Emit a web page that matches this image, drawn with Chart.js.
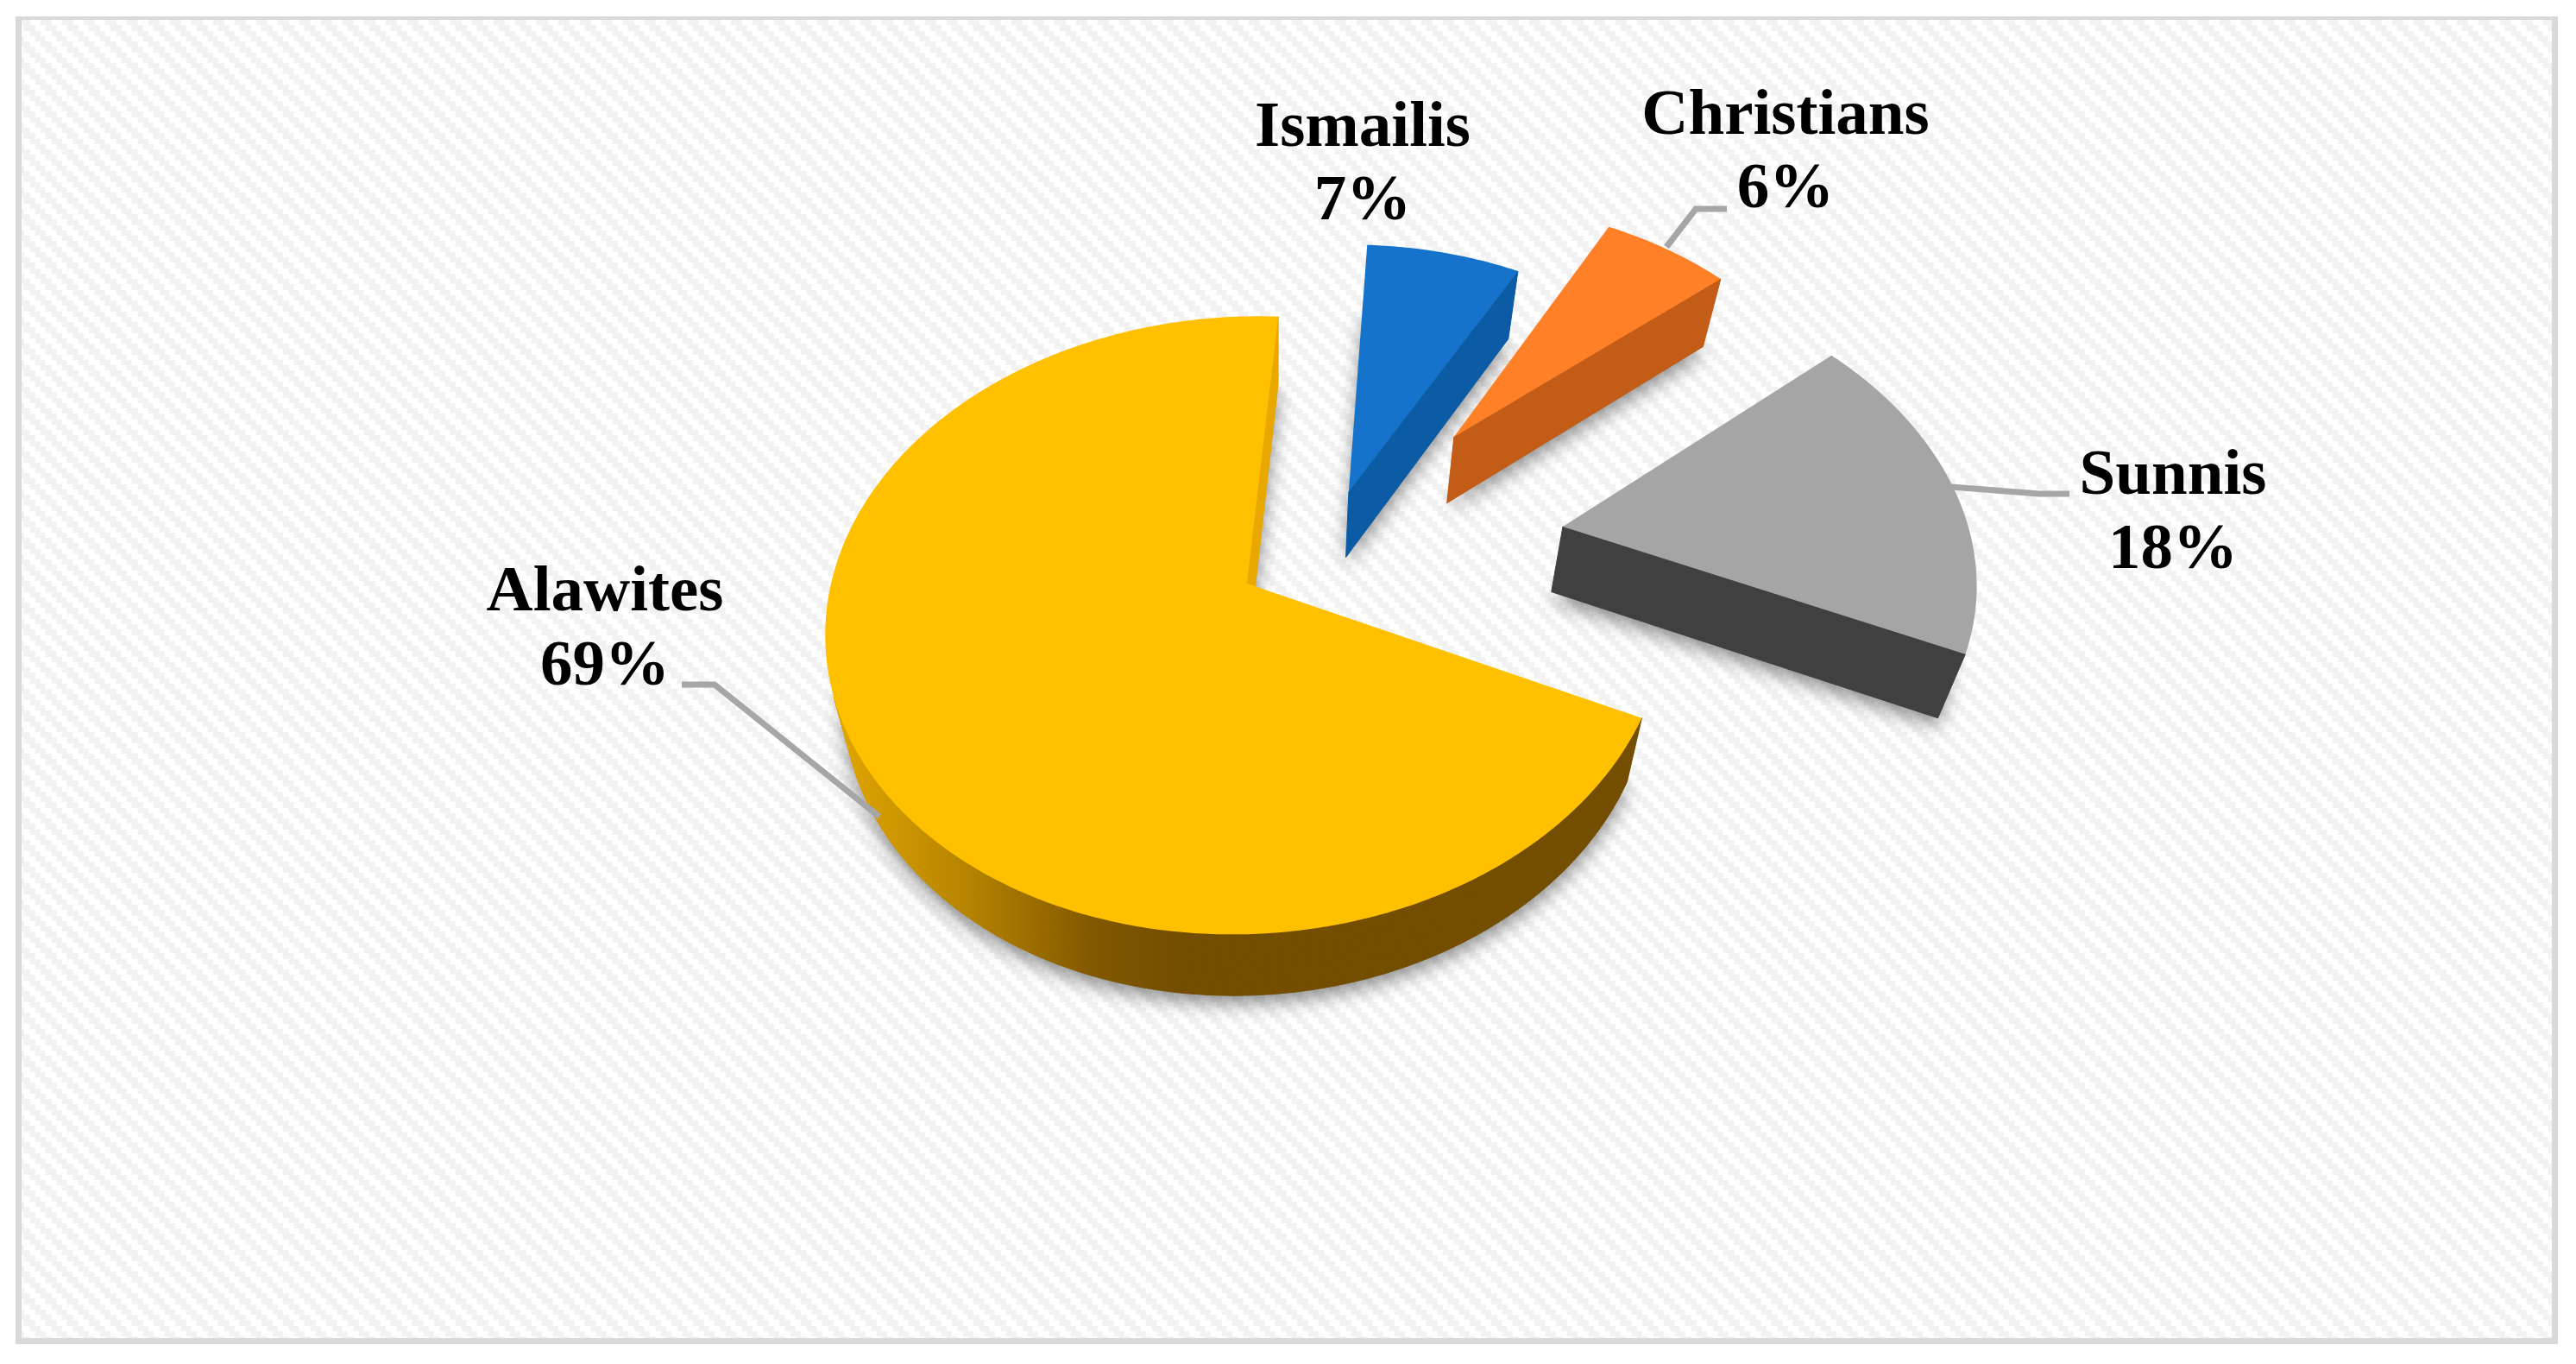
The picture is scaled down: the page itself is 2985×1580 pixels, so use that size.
<!DOCTYPE html>
<html><head>
<meta charset="utf-8">
<title>Religious groups</title>
<script src="https://cdn.jsdelivr.net/npm/chart.js"></script>
<style>
body { margin: 0; background: #fff; }
canvas { display: block; }
</style>
</head>
<body>
<canvas id="pie" width="2985" height="1580"></canvas>
<script>
// data
const categories = ['Alawites', 'Ismailis', 'Christians', 'Sunnis'];
const shares = [69, 7, 6, 18];

// how far each slice is pulled out, as a part of the radius
const explode = [0.22, 0.21, 0.52, 0.59];

const topColors = ['#FFC000', '#1673CB', '#FF8026', '#A5A5A5'];
const wallColors = [null, '#0C5BA5', '#C25C16', '#404040'];
const radialColors = ['#E8A800', '#0C5BA5', '#C25C16', '#404040'];

// label centre x, first and second baseline
const labelSpots = [
    {x: 701, y1: 707, y2: 793},
    {x: 1579, y1: 169, y2: 254},
    {x: 2069, y1: 155, y2: 240},
    {x: 2518, y1: 572, y2: 658}
];
// leader lines, drawn from the text to the slice
const leaders = [
    [[790, 793], [828, 793], [1019, 946]],
    null,
    [[2001, 242], [1965, 242], [1931, 286]],
    [[2398, 572], [2363, 572], [2261, 564]]
];

const RADIUS = 476;
// perspective of the pie plane, fitted by hand on the picture
const view = {x0: 1445, y0: 676, a: 482, b: 351.5, c: -15, k: -0.135};

function toScreen(u, v) {
    var w = 1 + view.k * v;
    return {x: view.x0 + (view.a * u + view.c * v) / w, y: view.y0 + view.b * v / w};
}
// same point on the under side of the slab
function under(p) {
    return {x: p.x - 0.04 * (p.x - 1480), y: p.y + 78 - 0.01 * (p.y - 366)};
}

function trace(ctx, points) {
    ctx.beginPath();
    points.forEach(function(p, i) {
        if (i == 0) ctx.moveTo(p.x, p.y);
        else ctx.lineTo(p.x, p.y);
    });
    ctx.closePath();
}

function hatch() {
    var tile = document.createElement('canvas');
    tile.width = 25;
    tile.height = 25;
    var t = tile.getContext('2d');
    t.fillStyle = '#fff';
    t.fillRect(0, 0, 25, 25);
    t.fillStyle = '#F2F2F2';
    var edges = [0, 6, 13, 19, 25];
    for (var r = 0; r < 4; r++) {
        for (var c = 0; c < 2; c++) {
            var i = (r + c) % 4;
            t.fillRect(edges[i], edges[r], edges[i + 1] - edges[i], edges[r + 1] - edges[r]);
        }
    }
    return tile;
}

function slicePoints(arc, pivot) {
    var p = arc.getProps(['startAngle', 'endAngle', 'outerRadius']);
    var mid = (p.startAngle + p.endAngle) / 2;
    var off = arc.options.offset / p.outerRadius;
    var cu = off * Math.cos(mid) - pivot.u;
    var cv = off * Math.sin(mid) - pivot.v;
    var points = [toScreen(cu, cv)];
    var steps = Math.ceil((p.endAngle - p.startAngle) / 0.01);
    for (var i = 0; i <= steps; i++) {
        var a = p.startAngle + (p.endAngle - p.startAngle) * i / steps;
        points.push(toScreen(cu + Math.cos(a), cv + Math.sin(a)));
    }
    return points;
}

// negative means the wall hangs outside the top face, so it can be seen
function wallFacing(a, b) {
    var q = [a, b, under(b), under(a)];
    var sum = 0;
    for (var i = 0; i < 4; i++) {
        var n = q[(i + 1) % 4];
        sum += q[i].x * n.y - n.x * q[i].y;
    }
    return sum;
}

const pie3d = {
    id: 'pie3d',
    beforeDraw(chart) {
        var ctx = chart.ctx;
        ctx.save();
        ctx.fillStyle = '#fff';
        ctx.fillRect(0, 0, chart.width, chart.height);
        ctx.fillStyle = '#D9D9D9';
        ctx.fillRect(18, 19, 2946, 1538);
        ctx.translate(21.7, 23);
        ctx.fillStyle = ctx.createPattern(hatch(), 'repeat');
        ctx.fillRect(3.3, 0, 2932, 1527);
        ctx.restore();
    },
    beforeDatasetDraw(chart) {
        var ctx = chart.ctx;
        var arcs = chart.getDatasetMeta(0).data;
        var first = arcs[0].getProps(['startAngle', 'endAngle', 'outerRadius']);
        var firstMid = (first.startAngle + first.endAngle) / 2;
        var pivot = {
            u: arcs[0].options.offset / first.outerRadius * Math.cos(firstMid),
            v: arcs[0].options.offset / first.outerRadius * Math.sin(firstMid)
        };
        var shapes = arcs.map(function(arc) { return slicePoints(arc, pivot); });

        // soft shadows first so no slice gets one on top
        ctx.save();
        ctx.shadowColor = 'rgba(0,0,0,0.45)';
        ctx.shadowBlur = 22;
        ctx.shadowOffsetY = 9;
        ctx.fillStyle = '#888';
        shapes.forEach(function(points) {
            trace(ctx, points.map(under));
            ctx.fill();
        });
        ctx.restore();

        var rim = ctx.createLinearGradient(958, 0, 1370, 0);
        rim.addColorStop(0, '#E5A900');
        rim.addColorStop(0.4, '#B58300');
        rim.addColorStop(0.75, '#825800');
        rim.addColorStop(1, '#734E00');

        shapes.forEach(function(points, n) {
            var wall = wallColors[n] || rim;
            var last = points.length - 1;
            for (var i = 0; i <= last; i++) {
                var a = points[i], b = points[i == last ? 0 : i + 1];
                if (wallFacing(a, b) >= 0) continue;
                var color = (i == 0 || i == last) ? radialColors[n] : wall;
                trace(ctx, [a, b, under(b), under(a)]);
                ctx.fillStyle = color;
                ctx.strokeStyle = color;
                ctx.lineWidth = 1;
                ctx.fill();
                ctx.stroke();
            }
            trace(ctx, points);
            ctx.fillStyle = topColors[n];
            ctx.fill();
        });

        ctx.save();
        ctx.strokeStyle = '#A6A6A6';
        ctx.lineWidth = 7;
        ctx.lineJoin = 'miter';
        leaders.forEach(function(line) {
            if (!line) return;
            ctx.beginPath();
            ctx.moveTo(line[0][0], line[0][1]);
            ctx.lineTo(line[1][0], line[1][1]);
            ctx.lineTo(line[2][0], line[2][1]);
            ctx.stroke();
        });
        ctx.restore();
        return false;
    },
    afterDatasetsDraw(chart) {
        var ctx = chart.ctx;
        ctx.save();
        ctx.fillStyle = '#000';
        ctx.font = 'bold 75px "Liberation Serif"';
        ctx.textAlign = 'center';
        ctx.textBaseline = 'alphabetic';
        categories.forEach(function(name, i) {
            ctx.fillText(name, labelSpots[i].x, labelSpots[i].y1);
            ctx.fillText(shares[i] + '%', labelSpots[i].x, labelSpots[i].y2);
        });
        ctx.restore();
    }
};

new Chart(document.getElementById('pie'), {
    type: 'pie',
    data: {
        labels: categories,
        datasets: [{
            data: shares,
            backgroundColor: topColors,
            borderWidth: 0,
            offset: explode.map(function(e) { return e * RADIUS; })
        }]
    },
    options: {
        responsive: false,
        animation: false,
        rotation: 114.7,
        radius: RADIUS,
        plugins: {legend: {display: false}, tooltip: {enabled: false}}
    },
    plugins: [pie3d]
});
</script>
</body></html>
